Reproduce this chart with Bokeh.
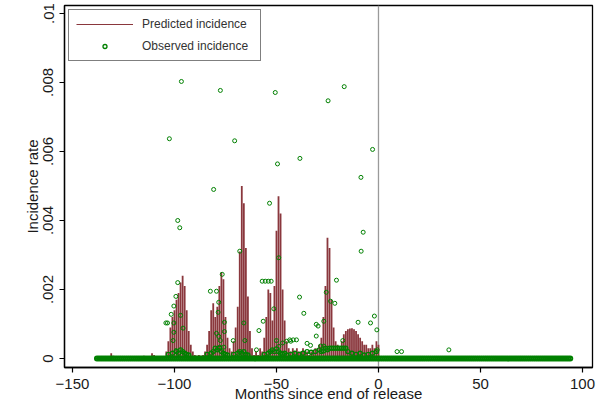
from bokeh.plotting import figure
from bokeh.models import (Range1d, FixedTicker, CustomJSTickFormatter, Span,
                          Legend, LegendItem, ColumnDataSource)
from bokeh.embed import file_html
from bokeh.resources import INLINE

# ---------------- data ----------------
# Predicted incidence by month since end of release (months with visible spikes)
pred_months = [-131, -130, -115, -111, -110,
               -105, -104, -103, -102, -101, -100, -99, -98, -97, -96, -95, -94, -93, -92, -91, -90,
               -89, -88, -87, -86, -85, -84, -83, -82, -81, -80, -79, -78, -77, -76, -75, -74, -73,
               -72, -71, -70, -69, -68, -67, -66, -65, -64, -63, -62, -61, -60, -59, -58, -57,
               -56, -55, -54, -53, -52, -51, -50, -49, -48, -47, -46, -45, -44, -43, -42, -41,
               -40, -39, -38, -37, -36, -35, -34, -33, -32, -31, -30, -29, -28, -27, -26, -25,
               -24, -23, -22, -21, -20, -19, -18, -17, -16, -15, -14, -13, -12, -11, -10, -9,
               -8, -7, -6, -5, -4, -3, -2, -1, 0]
pred_values = [0.00015, 0.00008, 0.00008, 0.00015, 0.0001,
               0.00005, 0.0002, 0.0005, 0.0009, 0.0012, 0.0014, 0.0017, 0.0019, 0.0022, 0.0024, 0.0021, 0.0014, 0.0008, 0.0004, 0.0002, 0.0001,
               0.00008, 0.0001, 0.00008, 0.0001, 0.0002, 0.0004, 0.0008, 0.0014, 0.0016, 0.0012, 0.0015, 0.0021, 0.0025, 0.0023, 0.0012, 0.0006, 0.0003,
               0.0002, 0.0005, 0.0009, 0.0015, 0.0031, 0.0050, 0.0045, 0.0032, 0.0018, 0.0008, 0.0003, 0.0001, 0.0002, 0.0001, 0.0003, 0.0002,
               0.0006, 0.0012, 0.0020, 0.0019, 0.0011, 0.0021, 0.0037, 0.0047, 0.0042, 0.0020, 0.0011, 0.0005, 0.0003, 0.0002, 0.0003, 0.0002,
               0.0003, 0.0002, 0.0002, 0.0003, 0.0002, 0.0002, 0.0001, 0.0002, 0.0002, 0.0003, 0.0003, 0.0004, 0.0006, 0.0012, 0.0021, 0.0035,
               0.0032, 0.0017, 0.0009, 0.0005, 0.0004, 0.0003, 0.0005, 0.0007, 0.0008, 0.00085, 0.00087, 0.00088, 0.00085, 0.0008, 0.0007, 0.0006,
               0.0005, 0.0004, 0.0004, 0.0003, 0.0003, 0.0004, 0.0003, 0.0005, 0.0004]

# Observed incidence: scattered non-zero observations
obs_months = [-96.6, -77.5, -50.6, -102.5, -70.5, -49.5, -38.5, -80.8, -16.8, -24.7, -2.9, -8.6,
              -98.4, -97.4, -53.4, -68.0, -48.9, -7.5, -8.5, -98.4, -76.6,
              -57.0, -55.5, -54.0, -52.6, -20.6, -82.4, -79.4, -99.3, -78.3, -100.3, -38.7,
              -25.6, -23.5, -21.4, -51.3, -36.6, -101.6, -104.2, -103.4, -100.3, -97.0, -95.8,
              -75.5, -66.0, -56.5, -58.6, -30.5, -29.6, -26.8, -30.5, -10.0, -3.9, -2.0, -0.8,
              -100.3, -79.4, -78.3, -77.5, -75.5, -71.2, -65.5, -43.5, -41.8, -40.2, -100.7,
              -99.2, -78.6, -75.8, -77.8, -59.8, -50.0, -48.9, -47.0, -45.0, -43.0, -35.0, -33.3,
              -28.4, -26.8, -17.5, -0.6, 9.1, 11.3, 34.5]
obs_values = [0.00803, 0.00777, 0.00771, 0.00637, 0.00631, 0.00564, 0.00580, 0.00490, 0.00788, 0.00747, 0.00606, 0.00525,
              0.00400, 0.00379, 0.00450, 0.00311, 0.00292, 0.00366, 0.00311, 0.00220, 0.00244,
              0.00224, 0.00224, 0.00224, 0.00224, 0.00227, 0.00195, 0.00195, 0.00180, 0.00163, 0.00152, 0.00178,
              0.00192, 0.00166, 0.00160, 0.00144, 0.00131, 0.00128, 0.00103, 0.00103, 0.00103, 0.00125, 0.00088,
              0.00105, 0.00103, 0.00108, 0.00081, 0.00099, 0.00094, 0.00108, 0.00065, 0.00105, 0.00103, 0.00123, 0.00083,
              0.00076, 0.00073, 0.00064, 0.00052, 0.00078, 0.00052, 0.00052, 0.00054, 0.00054, 0.00054, 0.00052,
              0.00023, 0.00134, 0.00033, 0.00033, 0.00025, 0.00052, 0.00035, 0.00045, 0.00050, 0.00050, 0.00044, 0.00038,
              0.00036, 0.00036, 0.00052, 0.00025, 0.00020, 0.00020, 0.00025]

# Observed incidence: low observations crowding just above zero
obs_low_months = [-103, -101, -99, -98, -97, -96, -95, -94, -93, -84, -82, -81, -80, -79, -78, -77,
                  -76, -75, -74, -71, -69, -68, -67, -66, -65, -64, -56, -54, -53, -52, -51, -50,
                  -49, -48, -47, -46, -45, -43, -41, -39, -37, -35, -33, -31, -29, -28, -27, -26,
                  -25, -24, -23, -22, -21, -20, -19, -18, -17, -16, -15, -13, -11, -9, -7, -5, -3, -1]
obs_low_values = [0.00012, 0.00015, 0.0002, 0.00015, 0.00025, 0.0002, 0.00015, 0.00012, 0.0001, 0.00012, 0.00015, 0.0002, 0.0003, 0.00025, 0.0003, 0.0002,
                  0.00015, 0.00012, 0.0001, 0.00012, 0.00015, 0.0002, 0.00015, 0.0002, 0.00012, 0.0001, 0.00012, 0.00015, 0.0002, 0.00025, 0.0002, 0.00028,
                  0.0002, 0.00015, 0.00012, 0.00015, 0.0001, 0.00012, 0.00015, 0.00012, 0.00015, 0.0002, 0.00018, 0.0002, 0.00025, 0.0002, 0.00022, 0.0003,
                  0.00025, 0.0003, 0.0003, 0.0003, 0.0003, 0.0003, 0.0003, 0.0003, 0.0003, 0.0003, 0.0002, 0.00015, 0.00012, 0.00015, 0.0001, 0.00012, 0.00015, 0.0002]

# Observed incidence: zero observations at every month of the study window
obs_zero_months = list(range(-138, 95))
obs_zero_values = [0.0] * len(obs_zero_months)

x_ticks = [-150, -100, -50, 0, 50, 100]
y_ticks = [0, 0.002, 0.004, 0.006, 0.008, 0.01]

MAROON = "#8A373D"
GREEN = "#008000"
FONT = "Liberation Sans"
NAN = float("nan")

# ---------------- figure ----------------
p = figure(width=596, height=405, output_backend="svg", toolbar_location=None,
           x_range=Range1d(-153.9, 104.9), y_range=Range1d(-0.000261, 0.010232),
           min_border_left=64, min_border_right=4, min_border_top=5, min_border_bottom=38)
p.grid.visible = False
p.outline_line_color = "black"
p.outline_line_width = 1.3
p.background_fill_color = "white"
p.border_fill_color = "white"

zero_line = Span(location=0, dimension="height", line_color="#9a9a9a", line_width=1.3, level="underlay")
p.add_layout(zero_line)

pred_src = ColumnDataSource(dict(m=pred_months, v=pred_values, z=[0.0] * len(pred_months)))
r_pred = p.segment(x0="m", y0="z", x1="m", y1="v", source=pred_src, line_color=MAROON, line_width=1.8)

r_zero = p.scatter(obs_zero_months, obs_zero_values, marker="circle", size=4,
                   fill_color=None, line_color=GREEN, line_width=2.0)
r_low = p.scatter(obs_low_months, obs_low_values, marker="circle", size=4,
                  fill_color=None, line_color=GREEN, line_width=1.4)
r_obs = p.scatter(obs_months, obs_values, marker="circle", size=4,
                  fill_color=None, line_color=GREEN, line_width=1.0)

# legend key stand-ins (thin line, small hollow marker); NaN so nothing is plotted
leg_line = p.line(x=[NAN], y=[NAN], line_color=MAROON, line_width=1.2)
leg_mark = p.scatter(x=[NAN], y=[NAN], marker="circle", fill_color=None, line_color=GREEN, line_width=1.3)

# axes
p.xaxis.ticker = FixedTicker(ticks=x_ticks)
p.yaxis.ticker = FixedTicker(ticks=y_ticks)
p.yaxis.formatter = CustomJSTickFormatter(code="""
    if (Math.abs(tick) < 1e-12) return '0';
    let s = tick.toFixed(3).replace(/0+$/, '');
    return s.replace(/^0/, '');
""")
for ax in (p.xaxis[0], p.yaxis[0]):
    ax.axis_line_color = "black"
    ax.axis_line_width = 1.3
    ax.major_tick_line_color = "black"
    ax.major_tick_line_width = 1.2
    ax.major_tick_out = 5
    ax.major_tick_in = 0
    ax.minor_tick_line_color = None
    ax.major_label_text_font = FONT
    ax.major_label_text_font_size = "15px"
    ax.major_label_text_color = "#1a1a1a"
    ax.axis_label_text_font = FONT
    ax.axis_label_text_font_size = "15px"
    ax.axis_label_text_font_style = "normal"
    ax.axis_label_text_color = "#1a1a1a"

p.yaxis.major_label_orientation = "vertical"
p.yaxis.major_label_standoff = 6
p.yaxis.axis_label = "Incidence rate"
p.yaxis.axis_label_standoff = 0

p.xaxis.major_label_standoff = 6
p.xaxis.axis_label = "Months since end of release"
p.xaxis.axis_label_standoff = -7

legend = Legend(items=[LegendItem(label="Predicted incidence", renderers=[leg_line]),
                       LegendItem(label="Observed incidence", renderers=[leg_mark])],
                location="top_left")
legend.margin = 4
legend.padding = 7
legend.spacing = 8
legend.glyph_width = 57
legend.glyph_height = 10
legend.label_height = 14
legend.label_standoff = 9
legend.label_width = 111
legend.label_text_font = FONT
legend.label_text_font_size = "12px"
legend.label_text_color = "#333333"
legend.border_line_color = "black"
legend.border_line_width = 1.2
legend.background_fill_color = "white"
legend.background_fill_alpha = 1.0
p.add_layout(legend)

open("out.html", "w").write(file_html(p, INLINE))
